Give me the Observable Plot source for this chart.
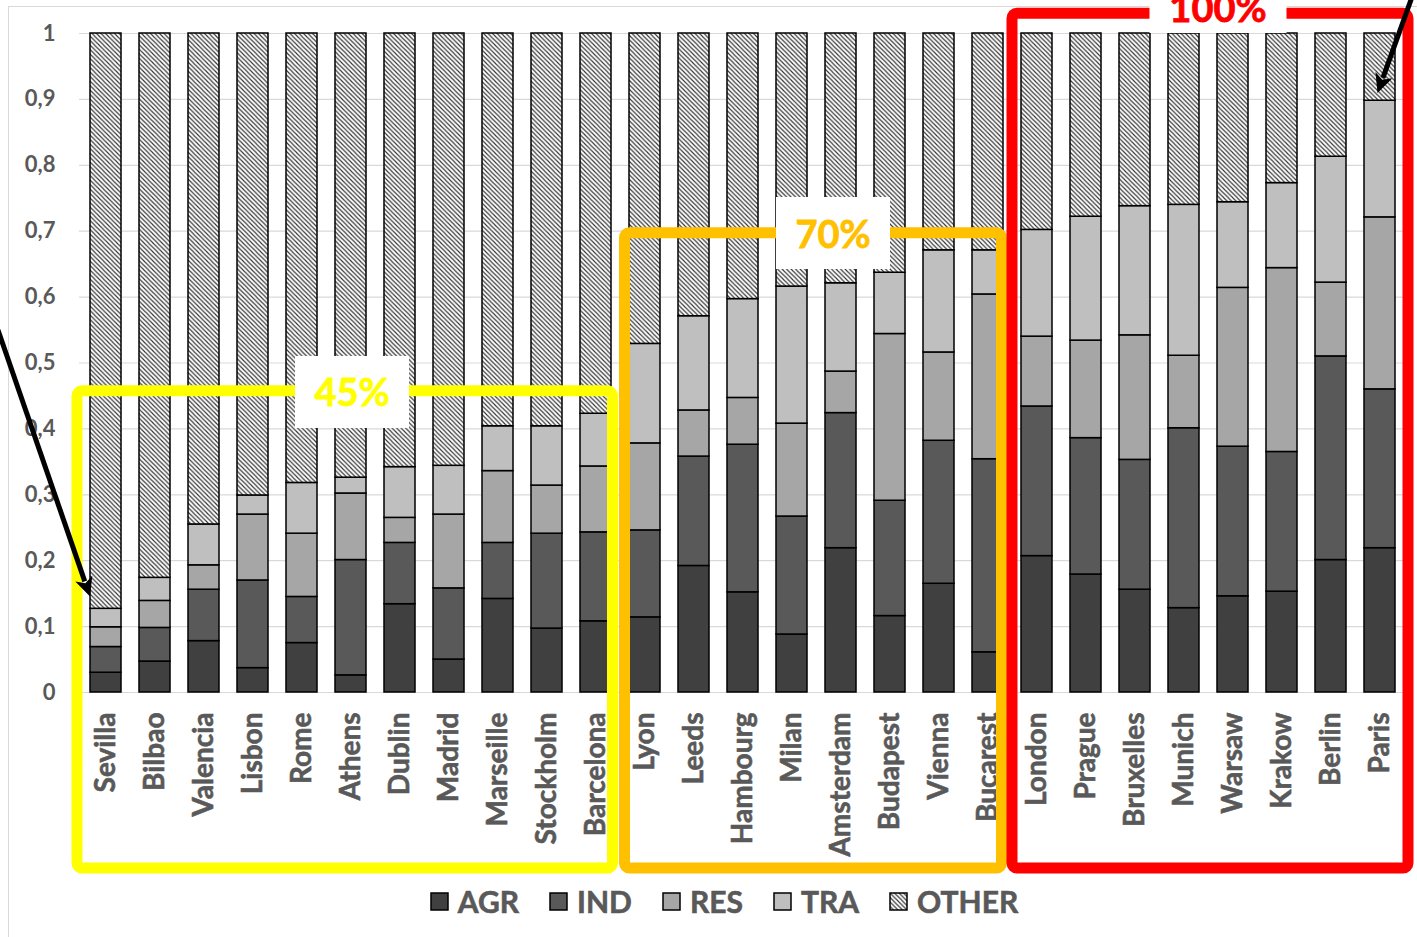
<!DOCTYPE html>
<html>
<head>
<meta charset="utf-8">
<script src="https://cdn.jsdelivr.net/npm/d3@7"></script>
<script src="https://cdn.jsdelivr.net/npm/@observablehq/plot@0.6"></script>
<style>
  body { margin: 0; background: #fff; font-family: Lato, "Open Sans", sans-serif; }
  #wrap { position: relative; width: 1417px; height: 937px; overflow: hidden; }
  #frame { position: absolute; left: 8px; top: 6px; width: 1440px; height: 960px; border: 1px solid #d9d9d9; }
  #chart { position: relative; }
  #legend { position: relative; display: flex; justify-content: center; align-items: center;
            height: 34px; margin-top: 4px; padding-left: 31px; color: #595959;
            font: bold 30px Lato, sans-serif; -webkit-text-stroke: 0.6px #595959; }
  .item { display: flex; align-items: center; margin: 0 15px; }
  .item svg { margin-right: 9px; }
</style>
</head>
<body>
<div id="wrap">
  <div id="frame"></div>
  <div id="chart"></div>
  <div id="legend"></div>
</div>
<script>
// Cities, ordered by their combined AGR+IND+RES+TRA share
const cities = ["Sevilla","Bilbao","Valencia","Lisbon","Rome","Athens","Dublin","Madrid","Marseille","Stockholm","Barcelona",
  "Lyon","Leeds","Hambourg","Milan","Amsterdam","Budapest","Vienna","Bucarest",
  "London","Prague","Bruxelles","Munich","Warsaw","Krakow","Berlin","Paris"];

// Share of each sector (stacked bottom to top)
const agr   = [0.030,0.047,0.078,0.037,0.075,0.026,0.134,0.050,0.142,0.097,0.108,0.114,0.192,0.152,0.088,0.219,0.116,0.165,0.061,0.207,0.179,0.156,0.128,0.146,0.153,0.201,0.219];
const ind   = [0.039,0.051,0.078,0.133,0.070,0.175,0.093,0.108,0.085,0.144,0.135,0.132,0.166,0.224,0.179,0.205,0.175,0.217,0.293,0.227,0.207,0.197,0.273,0.227,0.212,0.309,0.241];
const res   = [0.030,0.041,0.037,0.100,0.096,0.101,0.038,0.112,0.109,0.073,0.100,0.132,0.070,0.071,0.141,0.063,0.253,0.134,0.250,0.106,0.148,0.189,0.110,0.241,0.279,0.112,0.261];
const tra   = [0.028,0.035,0.062,0.029,0.077,0.024,0.077,0.074,0.068,0.090,0.080,0.151,0.143,0.150,0.208,0.134,0.093,0.155,0.067,0.162,0.188,0.196,0.229,0.130,0.129,0.191,0.177];
const other = [0.873,0.826,0.745,0.701,0.682,0.674,0.658,0.656,0.596,0.596,0.577,0.471,0.429,0.403,0.384,0.379,0.363,0.329,0.329,0.298,0.278,0.262,0.260,0.256,0.227,0.187,0.102];

const sectors = ["AGR","IND","RES","TRA","OTHER"];
const sectorFills = ["#404040","#595959","#a6a6a6","#bfbfbf","url(#hatch)"];
const yTicks = [0,0.1,0.2,0.3,0.4,0.5,0.6,0.7,0.8,0.9,1];

// Group frames: [first city, last city, top of frame, label, colour]
const groups = [
  {from: "Sevilla", to: "Barcelona", top: 0.457, label: "45%", color: "#FFFF00"},
  {from: "Lyon", to: "Bucarest", top: 0.697, label: "70%", color: "#FFC000"},
  {from: "London", to: "Paris", top: 1.03, label: "100%", color: "#FF0000"}
];

const series = [agr, ind, res, tra, other];
const rows = [];
cities.forEach((city, i) => {
  sectors.forEach((s, k) => rows.push({city, sector: s, value: series[k][i]}));
});

const grey = "#595959";
const chart = Plot.plot({
  width: 1417,
  height: 880,
  marginLeft: 79,
  marginRight: 11,
  marginTop: 33,
  marginBottom: 188,
  style: {background: "transparent", fontFamily: "Lato, sans-serif"},
  x: {domain: cities, paddingInner: 0.37, paddingOuter: 0.185, axis: null},
  y: {domain: [0, 1], axis: null},
  color: {domain: sectors, range: sectorFills},
  marks: [
    Plot.gridY(yTicks, {stroke: "#d9d9d9", strokeOpacity: 1, strokeWidth: 1.2}),
    Plot.axisY(yTicks, {tickSize: 0, tickPadding: 24, fontSize: 22, fontWeight: "bold", fill: grey,
      stroke: grey, strokeWidth: 0.5, tickFormat: d => String(d).replace(".", ","), label: null}),
    Plot.barY(rows, {x: "city", y: "value", fill: "sector", stroke: "#000", strokeWidth: 1.5}),
    Plot.text(cities, {x: d => d, frameAnchor: "bottom", dy: 20, rotate: -90, textAnchor: "end",
      lineAnchor: "middle", fontSize: 28, fontWeight: "bold", fill: grey, stroke: grey, strokeWidth: 0.6})
  ]
});

// Diagonal hatch used by OTHER
const defs = d3.create("svg:defs");
const pat = defs.append("pattern").attr("id", "hatch").attr("patternUnits", "userSpaceOnUse")
  .attr("width", 4.5).attr("height", 4.5);
pat.append("rect").attr("width", 4.5).attr("height", 4.5).attr("fill", "#fff");
pat.append("path").attr("d", "M-1,-1L5.5,5.5M-1,3.5L1,5.5M3.5,-1L5.5,1").attr("stroke", "#333").attr("stroke-width", 1.15);
chart.insertBefore(defs.node(), chart.firstChild);

// Group frames, percentage labels and arrows drawn in the plot's coordinates
const xs = chart.scale("x"), ys = chart.scale("y");
const bw = xs.bandwidth;
const X = v => xs.apply(v);
const Y = v => ys.apply(v);
const g = d3.select(chart).append("g");
const bottom = 868;
const pads = [[-13, 1.5], [-4.5, -1.5], [-9, 13]];
groups.forEach((grp, i) => {
  const x1 = X(grp.from) + pads[i][0];
  const x2 = X(grp.to) + bw + pads[i][1];
  const y1 = Y(grp.top);
  g.append("rect").attr("x", x1).attr("y", y1).attr("width", x2 - x1).attr("height", bottom - y1)
    .attr("rx", 5).attr("fill", "none").attr("stroke", grp.color).attr("stroke-width", 11);
});
// label boxes: [centre x, box top, box bottom, baseline]
const labelBoxes = [[352, 356, 428, 406], [833, 197, 269, 248], [1218, -40, 33, 22]];
groups.forEach((grp, i) => {
  const [cx, t, b, base] = labelBoxes[i];
  const w = i === 2 ? 137 : 114;
  g.append("rect").attr("x", cx - w / 2).attr("y", t).attr("width", w).attr("height", b - t).attr("fill", "#fff");
  g.append("text").attr("x", cx).attr("y", base).attr("text-anchor", "middle")
    .attr("font-family", "Lato, sans-serif").attr("font-weight", "bold").attr("font-size", 38)
    .attr("fill", grp.color).attr("stroke", grp.color).attr("stroke-width", 0.8).text(grp.label);
});

function arrow(x1, y1, x2, y2) {
  const dx = x2 - x1, dy = y2 - y1, L = Math.hypot(dx, dy), ux = dx / L, uy = dy / L;
  const hl = 19, hw = 9;
  const bx = x2 - ux * hl, by = y2 - uy * hl;
  g.append("line").attr("x1", x1).attr("y1", y1).attr("x2", bx + ux * 3).attr("y2", by + uy * 3)
    .attr("stroke", "#000").attr("stroke-width", 5);
  g.append("path").attr("d", `M${x2},${y2}L${bx - uy * hw},${by + ux * hw}L${bx + ux * 5},${by + uy * 5}L${bx + uy * hw},${by - ux * hw}Z`)
    .attr("fill", "#000");
}
arrow(-2, 330, X("Sevilla"), Y(0.145));
arrow(1412, -3, X("Paris") + bw / 2 - 2, Y(0.909));

document.getElementById("chart").appendChild(chart);

// Legend
const legend = d3.select("#legend");
sectors.forEach((s, i) => {
  const item = legend.append("div").attr("class", "item");
  const sw = item.append("svg").attr("width", 19).attr("height", 19);
  sw.append("rect").attr("x", 1).attr("y", 1).attr("width", 17).attr("height", 17)
    .attr("fill", sectorFills[i]).attr("stroke", "#000").attr("stroke-width", 1.5);
  item.append("span").text(s);
});
</script>
</body>
</html>
